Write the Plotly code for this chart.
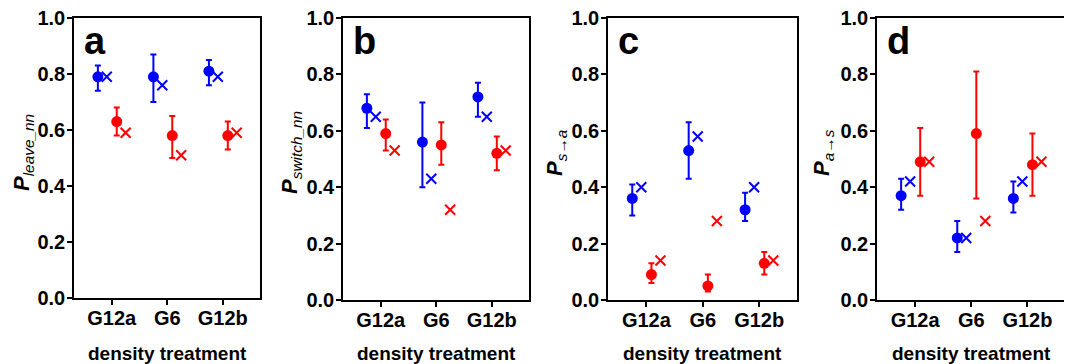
import plotly.graph_objects as go

W, H = 1072, 364
OFF = 8  # page body margin offset in px

categories = ["G12a", "G6", "G12b"]
cat_pos = [1, 2, 3]
panel_letters = ["a", "b", "c", "d"]
y_titles = [
    "<b><i>P</i></b><sub><i>leave_nn</i></sub>",
    "<b><i>P</i></b><sub><i>switch_nn</i></sub>",
    "<b><i>P</i></b><sub><i>s\u2192a</i></sub>",
    "<b><i>P</i></b><sub><i>a\u2192s</i></sub>",
]

# Panel a
a_blue = [0.79, 0.79, 0.81]
a_blue_lo = [0.74, 0.70, 0.76]
a_blue_hi = [0.83, 0.87, 0.85]
a_blue_x = [0.79, 0.76, 0.79]
a_red = [0.63, 0.58, 0.58]
a_red_lo = [0.58, 0.50, 0.53]
a_red_hi = [0.68, 0.65, 0.63]
a_red_x = [0.59, 0.51, 0.59]

# Panel b
b_blue = [0.68, 0.56, 0.72]
b_blue_lo = [0.61, 0.40, 0.65]
b_blue_hi = [0.73, 0.70, 0.77]
b_blue_x = [0.65, 0.43, 0.65]
b_red = [0.59, 0.55, 0.52]
b_red_lo = [0.53, 0.48, 0.46]
b_red_hi = [0.64, 0.63, 0.58]
b_red_x = [0.53, 0.32, 0.53]

# Panel c
c_blue = [0.36, 0.53, 0.32]
c_blue_lo = [0.30, 0.43, 0.28]
c_blue_hi = [0.41, 0.63, 0.38]
c_blue_x = [0.40, 0.58, 0.40]
c_red = [0.09, 0.05, 0.13]
c_red_lo = [0.06, 0.03, 0.09]
c_red_hi = [0.13, 0.09, 0.17]
c_red_x = [0.14, 0.28, 0.14]

# Panel d
d_blue = [0.37, 0.22, 0.36]
d_blue_lo = [0.32, 0.17, 0.31]
d_blue_hi = [0.43, 0.28, 0.42]
d_blue_x = [0.42, 0.22, 0.42]
d_red = [0.49, 0.59, 0.48]
d_red_lo = [0.37, 0.36, 0.37]
d_red_hi = [0.61, 0.81, 0.59]
d_red_x = [0.49, 0.28, 0.49]

panels = [
    (a_blue, a_blue_lo, a_blue_hi, a_blue_x, a_red, a_red_lo, a_red_hi, a_red_x),
    (b_blue, b_blue_lo, b_blue_hi, b_blue_x, b_red, b_red_lo, b_red_hi, b_red_x),
    (c_blue, c_blue_lo, c_blue_hi, c_blue_x, c_red, c_red_lo, c_red_hi, c_red_x),
    (d_blue, d_blue_lo, d_blue_hi, d_blue_x, d_red, d_red_lo, d_red_hi, d_red_x),
]

offsets = [-0.25, -0.09, 0.09, 0.25]
BLUE = "#0000FF"
RED = "#FF0000"

# plot-area pixel boxes in screenshot coords (left, right, top, bottom)
boxes = [(74, 260, 18, 298), (343, 529, 18, 300), (608, 797, 18, 300), (877, 1065, 18, 300)]
ytitle_x = [23, 291, 556, 823]

FONT = "Liberation Sans, Arial, sans-serif"

def px(v):
    return (v - OFF) / W

def py(v):
    return 1 - (v - OFF) / H

fig = go.Figure()
annotations = []
for i, (bm, blo, bhi, bx, rm, rlo, rhi, rx) in enumerate(panels):
    n = "" if i == 0 else str(i + 1)
    xa, ya = "x" + n, "y" + n
    def xs(k):
        return [p + offsets[k] for p in cat_pos]
    fig.add_trace(go.Scatter(
        x=xs(0), y=bm, mode="markers", xaxis=xa, yaxis=ya,
        marker=dict(symbol="circle", size=11, color=BLUE),
        error_y=dict(type="data", symmetric=False,
                     array=[h - m for h, m in zip(bhi, bm)],
                     arrayminus=[m - l for m, l in zip(bm, blo)],
                     color=BLUE, thickness=2, width=3),
        showlegend=False))
    fig.add_trace(go.Scatter(
        x=xs(1), y=bx, mode="markers", xaxis=xa, yaxis=ya,
        marker=dict(symbol="x-thin", size=10, line=dict(color=BLUE, width=2)),
        showlegend=False))
    fig.add_trace(go.Scatter(
        x=xs(2), y=rm, mode="markers", xaxis=xa, yaxis=ya,
        marker=dict(symbol="circle", size=11, color=RED),
        error_y=dict(type="data", symmetric=False,
                     array=[h - m for h, m in zip(rhi, rm)],
                     arrayminus=[m - l for m, l in zip(rm, rlo)],
                     color=RED, thickness=2, width=3),
        showlegend=False))
    fig.add_trace(go.Scatter(
        x=xs(3), y=rx, mode="markers", xaxis=xa, yaxis=ya,
        marker=dict(symbol="x-thin", size=10, line=dict(color=RED, width=2)),
        showlegend=False))

    l, r, t, b = boxes[i]
    axis_common = dict(showline=True, linecolor="black", linewidth=1.5, mirror=True,
                       showgrid=False, zeroline=False, ticks="outside", ticklen=5,
                       tickwidth=1.5, tickcolor="black", automargin=False,
                       ticklabeloverflow="allow",
                       tickfont=dict(family=FONT, size=20, color="black", weight="bold"))
    fig.update_layout(**{
        ("xaxis" + n): dict(domain=[px(l), px(r)], anchor=ya, range=[0.32, 3.67],
                            tickvals=cat_pos, ticktext=categories,
                            ticklabelstandoff=-4, **axis_common),
        ("yaxis" + n): dict(domain=[py(b), py(t)], anchor=xa, range=[0, 1],
                            tickvals=[0, 0.2, 0.4, 0.6, 0.8, 1.0],
                            ticktext=["0.0", "0.2", "0.4", "0.6", "0.8", "1.0"],
                            ticklabelstandoff=-2,
                            **axis_common),
    })
    # panel letter
    annotations.append(dict(text="<b>" + panel_letters[i] + "</b>", xref="paper", yref="paper",
                            x=px(l + 8), y=py(41), xanchor="left", yanchor="middle",
                            showarrow=False, font=dict(family=FONT, size=38, color="black")))
    # x title
    annotations.append(dict(text="<b>density treatment</b>", xref="paper", yref="paper",
                            x=px((l + r) / 2), y=py(353), xanchor="center", yanchor="middle",
                            showarrow=False, font=dict(family=FONT, size=19, color="black")))
    # y title
    annotations.append(dict(text=y_titles[i], xref="paper", yref="paper",
                            x=px(ytitle_x[i]), y=py(153), xanchor="center", yanchor="middle",
                            textangle=-90, showarrow=False,
                            font=dict(family=FONT, size=22, color="black")))

fig.update_layout(width=W, height=H, margin=dict(l=0, r=0, t=0, b=0),
                  plot_bgcolor="white", paper_bgcolor="white",
                  annotations=annotations)
fig.write_html("out.html")
